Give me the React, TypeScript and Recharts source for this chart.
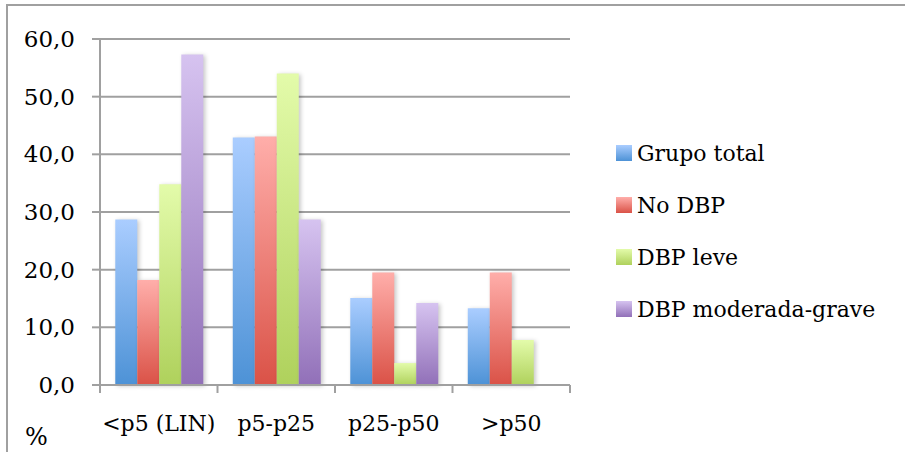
import React from 'react';
import { BarChart, Bar, XAxis, YAxis, CartesianGrid, Legend, Label } from 'recharts';

const categories = ['<p5 (LIN)', 'p5-p25', 'p25-p50', '>p50'];
const grupoTotal = [28.7, 42.9, 15.1, 13.3];
const noDBP = [18.2, 43.1, 19.5, 19.5];
const dbpLeve = [34.8, 54.0, 3.8, 7.8];
const dbpModeradaGrave: (number | null)[] = [57.3, 28.7, 14.2, null];
const yTicks = [0, 10, 20, 30, 40, 50, 60];

const seriesNames = ['Grupo total', 'No DBP', 'DBP leve', 'DBP moderada-grave'];
const seriesKeys = ['total', 'nodbp', 'leve', 'modgrave'];
const gradTop = ['#AACDFF', '#FFAEAA', '#E3FBAA', '#D6C3F0'];
const gradBottom = ['#4D92D6', '#DA5247', '#AFD15C', '#9170B8'];

const data = categories.map((c, i) => ({
  name: c,
  total: grupoTotal[i],
  nodbp: noDBP[i],
  leve: dbpLeve[i],
  modgrave: dbpModeradaGrave[i],
}));

const FONT = '"DejaVu Serif", serif';
const GRID = '#A0A0A0';

const fmt = (v: number) => v.toFixed(1).replace('.', ',');

const XTick = (props: any) => {
  const { x, y, payload, index } = props;
  const half = payload && payload.offset ? payload.offset : 0;
  const axisY = y - 30;
  const isLast = index === categories.length - 1;
  return (
    <g>
      <line x1={x - half} x2={x - half} y1={axisY} y2={axisY + 8} stroke={GRID} strokeWidth={2} />
      {isLast && <line x1={x + half} x2={x + half} y1={axisY} y2={axisY + 8} stroke={GRID} strokeWidth={2} />}
      <text x={x} y={y} dy="0.71em" textAnchor="middle" fontFamily={FONT} fontSize={22} fill="#000">
        {payload.value}
      </text>
    </g>
  );
};

const renderLegend = () => (
  <div style={{ fontFamily: FONT, fontSize: 22, color: '#000', width: 290 }}>
    {seriesNames.map((n, i) => (
      <div key={n} style={{ height: 52, display: 'flex', alignItems: 'center', whiteSpace: 'nowrap' }}>
        <svg width={16} height={16} style={{ flexShrink: 0, marginRight: 5 }}>
          <rect x={0} y={0} width={16} height={16} fill={`url(#lg-${seriesKeys[i]})`} />
        </svg>
        <span>{n}</span>
      </div>
    ))}
  </div>
);

const Frame = () => (
  <g>
    <line x1={6} x2={905} y1={5} y2={5} stroke={GRID} strokeWidth={2} />
    <line x1={7} x2={7} y1={4} y2={452} stroke={GRID} strokeWidth={2} />
  </g>
);

export default function App() {
  return (
    <div style={{ position: 'fixed', left: 0, top: 0, width: 905, height: 452, background: '#fff', overflow: 'hidden' }}>
      <style>{`.recharts-bar-rectangle path { filter: drop-shadow(2px 1px 2px rgba(0,0,0,0.22)); }`}</style>
      <svg width={0} height={0} style={{ position: 'absolute' }}>
        <defs>
          {seriesKeys.map((k, i) => (
            <linearGradient key={k} id={`lg-${k}`} x1="0" y1="0" x2="0" y2="1">
              <stop offset="0%" stopColor={gradTop[i]} />
              <stop offset="100%" stopColor={gradBottom[i]} />
            </linearGradient>
          ))}
        </defs>
      </svg>
      <BarChart
        width={905}
        height={452}
        data={data}
        margin={{ top: 39, right: 335, bottom: 66, left: 0 }}
        barCategoryGap="13%"
        barGap={0}
      >
        <defs>
          {seriesKeys.map((k, i) => (
            <linearGradient key={k} id={`g-${k}`} x1="0" y1="0" x2="0" y2="1">
              <stop offset="0%" stopColor={gradTop[i]} />
              <stop offset="100%" stopColor={gradBottom[i]} />
            </linearGradient>
          ))}
        </defs>
        <CartesianGrid vertical={false} stroke={GRID} strokeWidth={2} />
        <XAxis
          dataKey="name"
          height={1}
          axisLine={{ stroke: GRID, strokeWidth: 2 }}
          tickLine={false}
          tickSize={8}
          tickMargin={22}
          interval={0}
          tick={<XTick />}
        />
        <YAxis
          width={100}
          domain={[0, 60]}
          ticks={yTicks}
          tickFormatter={fmt}
          axisLine={{ stroke: GRID, strokeWidth: 2 }}
          tickLine={{ stroke: GRID, strokeWidth: 2 }}
          tickSize={8}
          tickMargin={17}
          tick={{ fontFamily: FONT, fontSize: 23, fill: '#000' }}
        >
          <Label
            content={() => (
              <g>
                <Frame />
                <text x={25} y={445} fontFamily={FONT} fontSize={24} fill="#000">
                  %
                </text>
              </g>
            )}
          />
        </YAxis>
        <Legend
          content={renderLegend}
          wrapperStyle={{ left: 616, top: 127, width: 0, height: 0, overflow: 'visible' }}
        />
        {seriesKeys.map((k, i) => (
          <Bar
            key={k}
            dataKey={k}
            name={seriesNames[i]}
            fill={`url(#g-${k})`}
            isAnimationActive={false}
          />
        ))}
      </BarChart>
    </div>
  );
}
